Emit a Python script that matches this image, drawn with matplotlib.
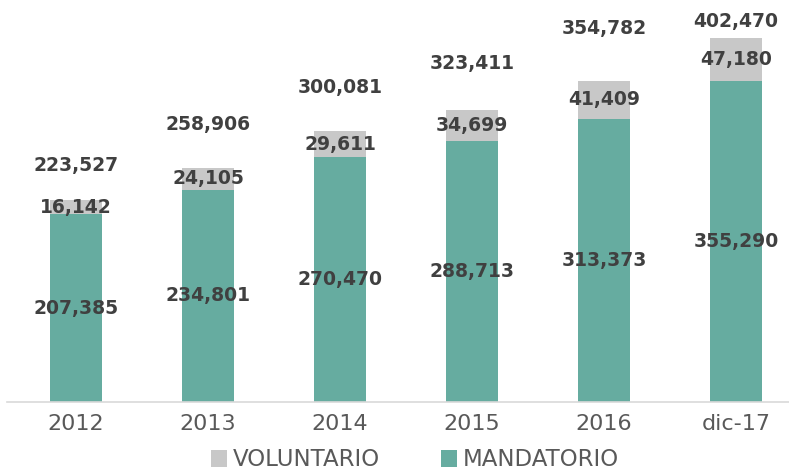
import matplotlib
matplotlib.use("Agg")
import matplotlib.pyplot as plt

# Datos
anios = ["2012", "2013", "2014", "2015", "2016", "dic-17"]
mandatorio = [207385, 234801, 270470, 288713, 313373, 355290]
voluntario = [16142, 24105, 29611, 34699, 41409, 47180]
totales = [223527, 258906, 300081, 323411, 354782, 402470]

# offsets (pt) de las etiquetas de total sobre la barra
off_total = [25, 31, 31, 33, 38, 12]

col_mand = "#66ACA0"
col_vol = "#C8C8C8"
col_txt = "#404040"

plt.rcParams["font.family"] = ["DejaVu Sans"]

fig = plt.figure(figsize=(7.89, 4.71), dpi=100)
ax = fig.add_axes([7/789, 69/471, 782/789, 402/471])

x = list(range(len(anios)))
ancho = 0.394
b1 = ax.bar(x, mandatorio, ancho, color=col_mand, label="MANDATORIO")
b2 = ax.bar(x, voluntario, ancho, bottom=mandatorio, color=col_vol, label="VOLUNTARIO")

for i in x:
    ax.text(i, mandatorio[i] / 2, f"{mandatorio[i]:,}", ha="center", va="center",
            fontsize=13.5, fontweight="bold", color=col_txt)
    ax.text(i, mandatorio[i] + voluntario[i] / 2, f"{voluntario[i]:,}", ha="center",
            va="center", fontsize=13.5, fontweight="bold", color=col_txt)
    ax.annotate(f"{totales[i]:,}", (i, totales[i]), xytext=(0, off_total[i]),
                textcoords="offset points", ha="center", va="center",
                fontsize=13.5, fontweight="bold", color=col_txt)

ax.set_xlim(-0.523, 5.402)
ax.set_ylim(0, 444600)
ax.set_xticks(x)
ax.set_xticklabels(anios, fontsize=16, color="#595959")
ax.tick_params(axis="x", length=0, pad=9)
ax.set_yticks([])
for s in ["top", "right", "left"]:
    ax.spines[s].set_visible(False)
ax.spines["bottom"].set_color("#D9D9D9")
ax.spines["bottom"].set_linewidth(1.2)

# leyenda abajo (en el original queda cortada por el borde)
fig.legend([b2, b1], ["VOLUNTARIO", "MANDATORIO"], loc="center",
           bbox_to_anchor=(415/789, 1 - 460/471), ncol=2, frameon=False,
           fontsize=16.5, labelcolor="#595959", handlelength=0.7, handleheight=0.7,
           handletextpad=0.25, columnspacing=2.7, borderpad=0.1)

fig.savefig("out.png", dpi=100)
